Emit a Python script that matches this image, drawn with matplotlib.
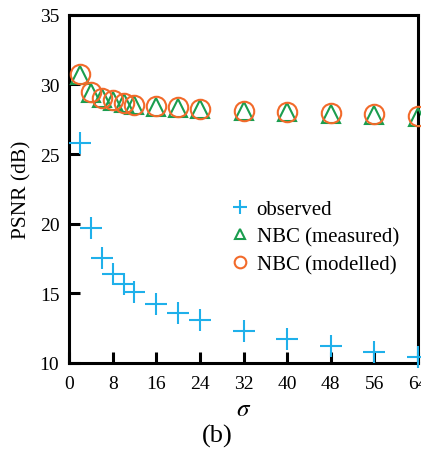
import numpy as np
import matplotlib.pyplot as plt

plt.rcParams['font.family'] = ['Liberation Serif', 'DejaVu Serif']
plt.rcParams['mathtext.fontset'] = 'stix'

sigma = [2, 4, 6, 8, 10, 12, 16, 20, 24, 32, 40, 48, 56, 64]
observed = [25.8, 19.7, 17.5, 16.4, 15.7, 15.1, 14.2, 13.6, 13.1, 12.3, 11.7, 11.2, 10.8, 10.4]
nbc_measured = [30.7, 29.4, 29.0, 28.8, 28.65, 28.5, 28.4, 28.3, 28.2, 28.1, 28.05, 27.9, 27.8, 27.65]
nbc_modelled = [30.75, 29.45, 29.05, 28.85, 28.7, 28.55, 28.45, 28.35, 28.25, 28.1, 28.05, 27.95, 27.85, 27.7]

fig = plt.figure(figsize=(4.21, 4.52), dpi=100)
ax = fig.add_axes([0.164, 0.195, 0.829, 0.77])

ax.plot(sigma, observed, ls='none', marker='+', ms=16, mew=1.5, color='#1fb0ea',
        label='observed', clip_on=False, zorder=3)
ax.plot(sigma, nbc_measured, ls='none', marker='^', ms=13, mew=1.5, mfc='none',
        color='#1a9d4e', label='NBC (measured)', clip_on=False, zorder=3)
ax.plot(sigma, nbc_modelled, ls='none', marker='o', ms=14, mew=1.5, mfc='none',
        color='#f26a2a', label='NBC (modelled)', clip_on=False, zorder=3)

ax.set_xlim(0, 64)
ax.set_ylim(10, 35)
ax.set_xticks(np.arange(0, 65, 8))
ax.set_yticks(np.arange(10, 36, 5))
ax.tick_params(direction='in', length=8, width=2.2, labelsize=14, pad=9)
ax.tick_params(axis='y', pad=7)
for s in ax.spines.values():
    s.set_linewidth(2.2)

ax.set_ylabel('PSNR (dB)', fontsize=15.5, labelpad=6)
ax.set_xlabel(r'$\sigma$', fontsize=18, labelpad=4)
fig.text(0.515, 0.02, '(b)', ha='center', fontsize=19)

ax.legend(loc='upper left', bbox_to_anchor=(0.43, 0.5), frameon=False, fontsize=15,
          markerscale=0.6, handlelength=1.0, handletextpad=0.3, labelspacing=0.4,
          borderpad=0)

fig.savefig('out.png', dpi=100)
